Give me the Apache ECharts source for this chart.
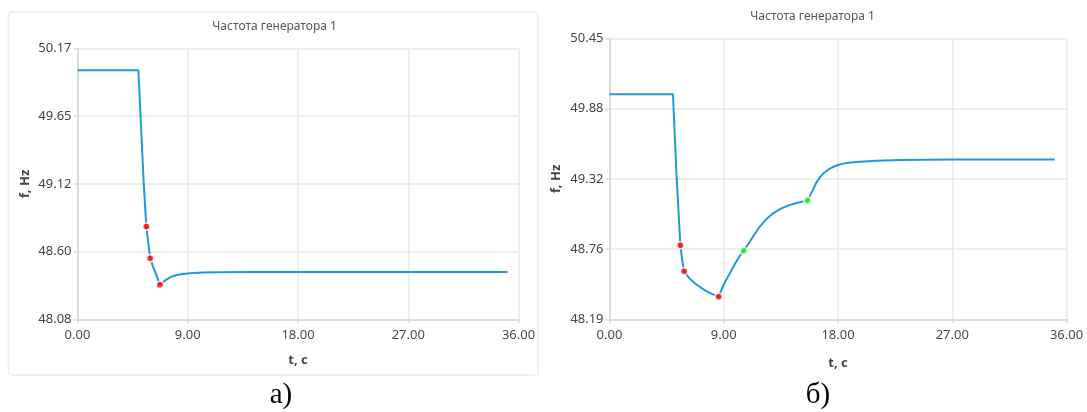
<!DOCTYPE html>
<html>
<head>
<meta charset="utf-8">
<script src="https://cdn.jsdelivr.net/npm/echarts@6/dist/echarts.min.js"></script>
<style>
html,body{margin:0;padding:0;background:#fff;}
#c{width:1087px;height:412px;}
</style>
</head>
<body>
<div id="c"></div>
<script>
// ---- Data ----
const titleText = 'Частота генератора 1';
const captionA = 'а)';
const captionB = 'б)';
const yName = 'f, Hz';
const xName = 't, c';

const xTicks = [0, 9, 18, 27, 36];

const yTickValsA = [48.08, 48.6025, 49.125, 49.6475, 50.17];
const yTickLabelsA = ['48.08', '48.60', '49.12', '49.65', '50.17'];
const yTickValsB = [48.19, 48.755, 49.32, 49.885, 50.45];
const yTickLabelsB = ['48.19', '48.76', '49.32', '49.88', '50.45'];

// Chart a: frequency curve
const tA = [0, 4.97, 5.1, 5.25, 5.4, 5.62, 5.78, 5.93, 6.15, 6.4, 6.73, 6.9, 7.22, 7.6, 8.1, 8.6, 9.18, 10.2, 11.36, 14.08, 20, 35.1];
const fA = [50.00, 50.00, 49.74, 49.44, 49.14, 48.795, 48.67, 48.55, 48.49, 48.43, 48.347, 48.36, 48.384, 48.405, 48.422, 48.43, 48.435, 48.44, 48.443, 48.445, 48.445, 48.445];
const redA = [[5.62, 48.795], [5.93, 48.55], [6.73, 48.347]];

// Chart b: frequency curve
const tB = [0, 5.0, 5.26, 5.58, 5.72, 5.88, 6.1, 6.31, 6.7, 7.1, 7.5, 7.89, 8.25, 8.6, 8.81, 9.1, 9.47, 9.85, 10.26, 10.57, 11.05, 11.4, 11.83, 12.3, 12.88, 13.5, 14.2, 14.9, 15.6, 15.8, 16.04, 16.3, 16.6, 16.85, 17.1, 17.4, 17.7, 18.01, 18.4, 18.8, 19.72, 21, 22.88, 27, 35.07];
const fB = [50.00, 50.00, 49.39, 48.785, 48.67, 48.576, 48.545, 48.519, 48.482, 48.452, 48.425, 48.403, 48.386, 48.372, 48.425, 48.49, 48.559, 48.63, 48.699, 48.741, 48.814, 48.87, 48.934, 48.99, 49.042, 49.08, 49.109, 49.13, 49.145, 49.185, 49.235, 49.29, 49.335, 49.362, 49.384, 49.404, 49.419, 49.431, 49.442, 49.449, 49.458, 49.466, 49.471, 49.475, 49.476];
const redB = [[5.58, 48.785], [5.88, 48.576], [8.6, 48.372]];
const greenB = [[10.57, 48.741], [15.6, 49.145]];

// ---- Chart ----
const zip = (xs, ys) => xs.map((x, i) => [x, ys[i]]);
const lineColor = '#1e9bd7';
const gridColor = '#e9e9e9';
const axisColor = '#dadada';
const labelFont = '"Noto Sans", "Open Sans", sans-serif';

function labelFor(vals, labels) {
  return function (v) {
    let best = 0, bd = Infinity;
    vals.forEach((t, i) => { const d = Math.abs(t - v); if (d < bd) { bd = d; best = i; } });
    return labels[best];
  };
}

function xAxisCfg(gridIndex, nameGap) {
  return {
    type: 'value', gridIndex, min: xTicks[0], max: xTicks[xTicks.length - 1], interval: xTicks[1] - xTicks[0],
    name: xName, nameLocation: 'middle', nameGap,
    nameTextStyle: { fontFamily: labelFont, fontWeight: 'bold', fontSize: 13, color: '#444' },
    axisLine: { show: true, lineStyle: { color: axisColor, width: 2 } },
    axisTick: { show: true, length: 4, lineStyle: { color: axisColor, width: 1.5 } },
    splitLine: { show: true, lineStyle: { color: gridColor, width: 1.5 } },
    axisLabel: { fontFamily: labelFont, fontSize: 13, color: '#4a4a55', margin: 9, formatter: v => v.toFixed(2) }
  };
}
function yAxisCfg(gridIndex, vals, labels, nameGap) {
  return {
    type: 'value', gridIndex, min: vals[0], max: vals[vals.length - 1],
    name: yName, nameLocation: 'middle', nameGap, nameRotate: 90,
    nameTextStyle: { fontFamily: labelFont, fontWeight: 'bold', fontSize: 13, color: '#444' },
    axisLine: { show: true, lineStyle: { color: axisColor, width: 2 } },
    axisTick: { show: true, length: 4, customValues: vals, lineStyle: { color: axisColor, width: 1.5 } },
    splitLine: { show: true, customValues: vals, lineStyle: { color: gridColor, width: 1.5 } },
    axisLabel: { fontFamily: labelFont, fontSize: 13, color: '#444', margin: 6, customValues: vals, formatter: labelFor(vals, labels) }
  };
}
function dotSeries(data, color, xi) {
  return {
    type: 'scatter', xAxisIndex: xi, yAxisIndex: xi, data, symbol: 'circle', symbolSize: 7,
    itemStyle: { color, borderColor: '#fff', borderWidth: 1.5 }, z: 5, silent: true
  };
}

const chart = echarts.init(document.getElementById('c'), null, { renderer: 'canvas' });
chart.setOption({
  animation: false,
  backgroundColor: '#fff',
  grid: [
    { left: 77.5, top: 48.3, width: 441, height: 271 },
    { left: 609.5, top: 38.3, width: 457, height: 281 }
  ],
  xAxis: [xAxisCfg(0, 34), xAxisCfg(1, 37)],
  yAxis: [yAxisCfg(0, yTickValsA, yTickLabelsA, 46), yAxisCfg(1, yTickValsB, yTickLabelsB, 47)],
  graphic: [
    { type: 'rect', shape: { x: 8.5, y: 11.7, width: 529.5, height: 363.3, r: 4 },
      style: { fill: 'none', stroke: '#ececec', lineWidth: 1.5 }, z: -1, silent: true },
    { type: 'text', x: 274.6, y: 26.7, style: { text: titleText, fontFamily: labelFont, fontSize: 12, fill: '#555', align: 'center', verticalAlign: 'middle' } },
    { type: 'text', x: 812.6, y: 16.7, style: { text: titleText, fontFamily: labelFont, fontSize: 12, fill: '#555', align: 'center', verticalAlign: 'middle' } },
    { type: 'text', x: 281, y: 395, style: { text: captionA, fontFamily: '"Liberation Serif", "Times New Roman", serif', fontSize: 29, fill: '#000', align: 'center', verticalAlign: 'middle' } },
    { type: 'text', x: 818, y: 395, style: { text: captionB, fontFamily: '"Liberation Serif", "Times New Roman", serif', fontSize: 29, fill: '#000', align: 'center', verticalAlign: 'middle' } }
  ],
  series: [
    { type: 'line', xAxisIndex: 0, yAxisIndex: 0, data: zip(tA, fA), showSymbol: false, symbol: 'none',
      lineStyle: { color: lineColor, width: 2 }, z: 3, silent: true },
    dotSeries(redA, '#ff0000', 0),
    { type: 'line', xAxisIndex: 1, yAxisIndex: 1, data: zip(tB, fB), showSymbol: false, symbol: 'none',
      lineStyle: { color: lineColor, width: 2 }, z: 3, silent: true },
    dotSeries(redB, '#ff0000', 1),
    dotSeries(greenB, '#22ee22', 1)
  ]
});
</script>
</body>
</html>
